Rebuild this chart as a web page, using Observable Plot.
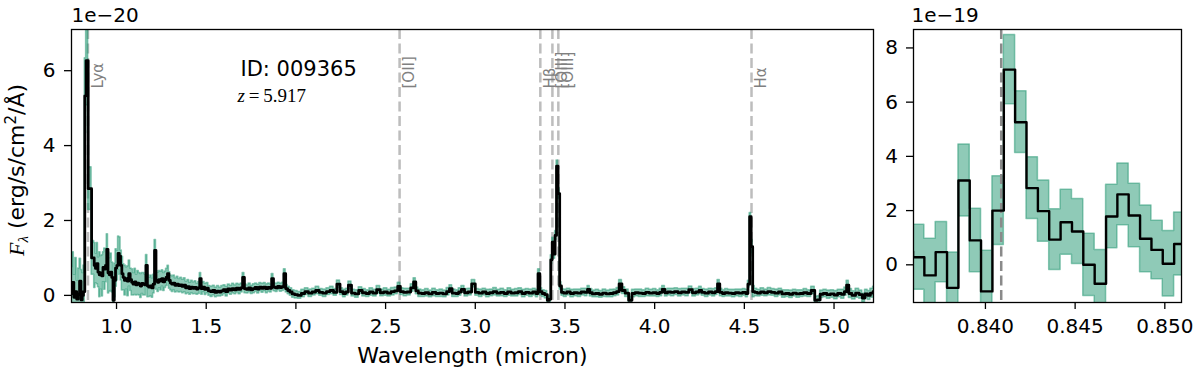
<!DOCTYPE html>
<html><head><meta charset="utf-8">
<script src="https://cdn.jsdelivr.net/npm/d3@7"></script>
<script src="https://cdn.jsdelivr.net/npm/@observablehq/plot@0.6"></script>
<style>
html,body{margin:0;padding:0;background:#fff;}
#wrap{position:relative;width:1200px;height:375px;overflow:hidden;background:#fff;}
#wrap svg{position:absolute;top:0;}
</style></head><body><div id="wrap"></div>
<script>
// ---- full spectrum (flux in units of 1e-20) ----
const specWave = [0.750,0.758,0.766,0.774,0.782,0.790,0.798,0.806,0.812,0.819,0.827,0.834,0.850,0.872,0.879,0.886,0.893,0.900,0.907,0.914,0.921,0.928,0.935,0.942,0.949,0.956,0.963,0.970,0.977,0.984,0.991,0.998,1.005,1.012,1.019,1.026,1.033,1.040,1.048,1.056,1.064,1.072,1.080,1.088,1.096,1.104,1.112,1.120,1.128,1.136,1.144,1.152,1.160,1.168,1.176,1.184,1.192,1.200,1.208,1.216,1.224,1.232,1.240,1.248,1.256,1.264,1.272,1.280,1.288,1.296,1.304,1.312,1.320,1.330,1.340,1.350,1.360,1.370,1.380,1.390,1.400,1.410,1.420,1.430,1.440,1.450,1.460,1.468,1.476,1.486,1.496,1.506,1.518,1.530,1.542,1.554,1.566,1.578,1.590,1.602,1.614,1.626,1.638,1.650,1.662,1.674,1.686,1.698,1.708,1.718,1.730,1.742,1.754,1.766,1.778,1.790,1.802,1.814,1.826,1.838,1.850,1.860,1.870,1.880,1.892,1.904,1.916,1.928,1.938,1.948,1.960,1.972,1.986,2.000,2.020,2.040,2.060,2.080,2.100,2.120,2.140,2.160,2.180,2.200,2.220,2.237,2.255,2.270,2.285,2.300,2.320,2.340,2.360,2.380,2.400,2.420,2.440,2.460,2.480,2.500,2.520,2.540,2.560,2.575,2.590,2.610,2.630,2.650,2.662,2.675,2.690,2.710,2.730,2.750,2.770,2.790,2.810,2.830,2.850,2.862,2.880,2.900,2.915,2.930,2.950,2.970,2.990,3.010,3.030,3.050,3.070,3.090,3.110,3.130,3.150,3.170,3.190,3.210,3.230,3.250,3.270,3.290,3.310,3.330,3.345,3.355,3.365,3.380,3.395,3.408,3.417,3.425,3.433,3.441,3.449,3.457,3.466,3.475,3.486,3.500,3.520,3.540,3.560,3.580,3.600,3.620,3.631,3.645,3.660,3.680,3.700,3.720,3.740,3.760,3.780,3.795,3.809,3.826,3.845,3.865,3.882,3.900,3.920,3.940,3.960,3.980,4.000,4.020,4.035,4.049,4.065,4.080,4.100,4.120,4.140,4.160,4.180,4.200,4.220,4.240,4.255,4.270,4.290,4.310,4.330,4.345,4.356,4.370,4.385,4.400,4.420,4.440,4.460,4.480,4.500,4.515,4.525,4.534,4.542,4.551,4.565,4.580,4.600,4.620,4.640,4.660,4.680,4.700,4.720,4.740,4.760,4.780,4.800,4.820,4.840,4.860,4.885,4.900,4.915,4.930,4.950,4.970,4.990,5.010,5.030,5.050,5.065,5.075,5.090,5.110,5.130,5.150,5.165,5.180,5.195,5.210,5.225];
const specFlux = [0.05,0.35,-0.05,0.10,-0.10,0.02,0.38,-0.12,0.00,0.10,5.33,6.27,2.85,1.00,0.80,0.72,0.85,0.62,0.55,0.60,0.52,0.75,0.70,0.80,1.23,0.60,0.55,0.62,0.48,-0.13,0.40,0.73,0.80,1.12,1.05,0.80,0.58,0.48,0.40,0.45,0.38,0.58,0.42,0.35,0.30,0.36,0.28,0.33,0.30,0.25,0.32,0.30,0.28,0.80,0.25,0.22,0.25,0.20,0.30,1.20,0.40,0.35,0.42,0.38,0.45,0.36,0.42,0.48,0.58,0.40,0.33,0.30,0.33,0.27,0.30,0.26,0.28,0.24,0.27,0.20,0.23,0.18,0.22,0.19,0.21,0.17,0.20,0.45,0.18,0.22,0.16,0.19,0.12,0.10,0.13,0.08,0.11,0.09,0.12,0.15,0.10,0.17,0.14,0.18,0.15,0.19,0.16,0.20,0.48,0.18,0.16,0.20,0.15,0.18,0.21,0.17,0.22,0.19,0.22,0.18,0.21,0.19,0.45,0.22,0.20,0.24,0.21,0.23,0.58,0.18,0.13,0.09,0.04,0.02,0.00,0.05,0.10,0.06,0.09,0.13,0.08,0.06,0.10,0.13,0.08,0.30,0.10,0.05,0.09,0.27,0.06,0.04,0.13,0.07,0.05,0.09,0.06,0.15,0.07,0.09,0.06,0.10,0.12,0.24,0.10,0.08,0.09,0.20,0.36,0.12,0.06,0.05,0.07,0.04,0.08,0.05,0.06,0.04,0.10,0.18,0.06,0.05,0.09,0.16,0.07,0.09,0.31,0.08,0.06,0.09,0.05,0.07,0.10,0.06,0.08,0.05,0.09,0.06,0.07,0.10,0.05,0.08,0.06,0.09,0.05,0.58,0.10,0.05,0.02,-0.13,-0.10,0.95,1.42,1.10,1.60,3.45,2.72,0.25,0.08,0.06,0.09,0.05,0.07,0.06,0.09,0.08,0.16,0.07,0.04,0.05,0.03,0.06,0.04,0.05,0.07,0.10,0.31,0.13,0.06,-0.13,0.05,0.07,0.06,0.05,0.08,0.06,0.07,0.05,0.08,0.16,0.07,0.09,0.08,0.10,0.07,0.09,0.08,0.15,0.07,0.09,0.13,0.08,0.06,0.09,0.07,0.10,0.31,0.08,0.05,0.07,0.06,0.05,0.07,0.06,0.08,0.05,0.30,2.10,1.30,0.10,0.08,0.06,0.09,0.07,0.10,0.08,0.06,0.09,0.04,0.05,0.03,0.06,0.04,0.05,0.07,0.05,0.13,-0.13,-0.12,0.03,0.05,0.02,0.04,0.01,0.05,0.03,0.10,0.27,0.05,0.00,0.06,0.02,-0.07,0.04,0.00,0.06,0.10];
const specErr = [0.70,0.80,0.60,0.90,0.50,0.70,0.60,0.80,0.60,0.70,1.00,1.20,0.57,0.45,0.60,0.40,0.55,0.40,0.60,0.45,0.55,0.40,0.55,0.45,0.40,0.55,0.45,0.50,0.40,0.50,0.45,0.50,0.40,0.45,0.50,0.40,0.45,0.35,0.40,0.30,0.40,0.35,0.30,0.35,0.30,0.35,0.28,0.32,0.30,0.32,0.28,0.30,0.28,0.28,0.30,0.26,0.28,0.26,0.25,0.28,0.25,0.26,0.23,0.25,0.22,0.24,0.22,0.23,0.21,0.22,0.20,0.21,0.20,0.19,0.20,0.18,0.19,0.18,0.19,0.17,0.18,0.16,0.17,0.16,0.17,0.15,0.16,0.15,0.16,0.14,0.15,0.14,0.13,0.14,0.13,0.13,0.14,0.12,0.13,0.12,0.13,0.12,0.12,0.13,0.12,0.12,0.13,0.12,0.12,0.12,0.11,0.12,0.11,0.12,0.11,0.12,0.11,0.12,0.11,0.12,0.11,0.11,0.12,0.11,0.11,0.10,0.11,0.11,0.12,0.10,0.10,0.10,0.10,0.10,0.09,0.10,0.09,0.10,0.09,0.10,0.09,0.10,0.09,0.10,0.09,0.10,0.09,0.10,0.09,0.10,0.09,0.10,0.09,0.10,0.09,0.10,0.09,0.10,0.09,0.10,0.09,0.10,0.09,0.10,0.09,0.10,0.09,0.10,0.10,0.09,0.10,0.09,0.10,0.09,0.10,0.09,0.10,0.09,0.10,0.09,0.10,0.09,0.10,0.09,0.10,0.09,0.10,0.09,0.10,0.09,0.10,0.09,0.10,0.09,0.10,0.09,0.10,0.09,0.10,0.09,0.10,0.09,0.10,0.09,0.10,0.12,0.10,0.09,0.10,0.09,0.10,0.12,0.12,0.12,0.12,0.15,0.15,0.10,0.09,0.10,0.09,0.10,0.09,0.10,0.09,0.10,0.09,0.10,0.09,0.10,0.09,0.10,0.09,0.10,0.09,0.10,0.10,0.09,0.10,0.09,0.10,0.09,0.10,0.09,0.10,0.09,0.10,0.09,0.10,0.09,0.10,0.09,0.10,0.09,0.10,0.09,0.10,0.09,0.10,0.09,0.10,0.09,0.10,0.09,0.10,0.09,0.10,0.10,0.09,0.10,0.09,0.10,0.09,0.10,0.09,0.10,0.09,0.10,0.18,0.15,0.10,0.09,0.10,0.09,0.10,0.09,0.10,0.09,0.10,0.09,0.10,0.09,0.10,0.09,0.10,0.09,0.10,0.10,0.10,0.10,0.10,0.11,0.10,0.11,0.10,0.12,0.11,0.12,0.12,0.11,0.12,0.11,0.12,0.11,0.12,0.12,0.13,0.20];

// ---- zoom on Ly-alpha (flux in units of 1e-19) ----
const zoomWave = [0.83565,0.83628,0.83691,0.83754,0.83818,0.83881,0.83944,0.84007,0.84071,0.84134,0.84197,0.84261,0.84324,0.84387,0.84451,0.84514,0.84577,0.84641,0.84704,0.84767,0.84830,0.84894,0.84957,0.85020,0.85084,0.85147];
const zoomFlux = [0.50,0.28,-0.39,0.47,-0.85,3.11,0.90,-0.98,2.00,7.20,5.26,2.83,1.98,0.93,1.57,1.23,0.00,-0.70,1.78,2.60,1.82,0.96,0.55,0.04,0.77,0.60];
const zoomErr = [1.20,1.20,1.35,1.11,1.30,1.33,1.17,1.50,1.27,1.28,1.14,1.14,1.13,1.12,1.20,1.20,1.15,1.25,1.17,1.14,1.17,1.23,1.08,1.21,1.16,1.20];

// ---- emission lines ----
const lineWave = [0.8409, 2.578, 3.3626, 3.430, 3.463, 4.540];
const labelWave = [0.8409, 2.578, 3.3626, 3.430, 3.463, 4.540];
const labelText = ["Lyα", "[OII]", "Hβ", "[OIII]", "[OIII]", "Hα"];
const lyaWave = [0.84088];

// ---- ticks ----
const leftXTicks = [1.0, 1.5, 2.0, 2.5, 3.0, 3.5, 4.0, 4.5, 5.0];
const leftYTicks = [0, 2, 4, 6];
const rightXTicks = [0.840, 0.845, 0.850];
const rightYTicks = [0, 2, 4, 6, 8];

const idText = "ID: 009365";
const zText = "z = 5.917";
const leftScaleText = "1e\u221220";
const rightScaleText = "1e\u221219";
const xLabel = "Wavelength (micron)";
const yLabel = "Fλ (erg/s/cm2/Å)";

const teal = "#1f956f";
const spec = specWave.map((w, i) => ({w, f: specFlux[i], lo: specFlux[i] - specErr[i], hi: specFlux[i] + specErr[i]}));
const zoom = zoomWave.map((w, i) => ({w, f: zoomFlux[i], lo: zoomFlux[i] - zoomErr[i], hi: zoomFlux[i] + zoomErr[i]}));
const labels = labelWave.map((w, i) => ({w, t: labelText[i]}));

const baseStyle = {fontFamily: "DejaVu Sans", fontSize: "20px", color: "black", background: "transparent", overflow: "visible"};

const left = Plot.plot({
  width: 880, height: 375,
  marginLeft: 71, marginRight: 7, marginTop: 29, marginBottom: 73,
  style: baseStyle,
  x: {domain: [0.749, 5.22]},
  y: {domain: [-0.19, 7.1]},
  marks: [
    Plot.ruleX(lineWave, {x: d => d, stroke: "#bdbdbd", strokeWidth: 2.5, strokeDasharray: "10,4.5", clip: true}),
    Plot.areaY(spec, {x: "w", y1: "lo", y2: "hi", curve: "step", fill: teal, fillOpacity: 0.5, stroke: teal, strokeOpacity: 0.5, strokeWidth: 1.5, clip: true}),
    Plot.line(spec, {x: "w", y: "f", curve: "step", stroke: "black", strokeWidth: 2.8, clip: true}),
    Plot.text(labels, {x: "w", text: "t", frameAnchor: "top", dy: 59, dx: 10, rotate: -90, textAnchor: "start", lineAnchor: "middle", fill: "#808080", fontSize: 15}),
    Plot.text([idText], {frameAnchor: "top-left", dx: 169, dy: 46, textAnchor: "start", lineAnchor: "bottom", fontSize: 21}),
    Plot.text([zText], {frameAnchor: "top-left", dx: 166, dy: 72.7, textAnchor: "start", lineAnchor: "bottom", fontSize: 19, fontFamily: "Liberation Serif"}),
    Plot.text([leftScaleText], {frameAnchor: "top-left", dx: 0, dy: -7.5, textAnchor: "start", lineAnchor: "bottom", fontSize: 20}),
    Plot.text([xLabel], {frameAnchor: "bottom", dy: 60, textAnchor: "middle", lineAnchor: "bottom", fontSize: 22}),
    Plot.text([yLabel], {frameAnchor: "left", dx: -63, dy: 4, rotate: -90, textAnchor: "middle", lineAnchor: "top", fontSize: 22}),
    Plot.axisX({ticks: leftXTicks, tickFormat: d3.format(".1f"), tickSize: 7, tickPadding: 9.4, strokeWidth: 1.3, label: null, fontSize: 20}),
    Plot.axisY({ticks: leftYTicks, tickFormat: d3.format("d"), tickSize: 7, tickPadding: 9, strokeWidth: 1.3, label: null, fontSize: 20}),
    Plot.frame({stroke: "black", strokeWidth: 1.3})
  ]
});
left.style.left = "0px";

const right = Plot.plot({
  width: 330, height: 375,
  marginLeft: 43, marginRight: 19, marginTop: 29, marginBottom: 73,
  style: baseStyle,
  x: {domain: [0.83599, 0.85093]},
  y: {domain: [-1.39, 8.68]},
  marks: [
    Plot.areaY(zoom, {x: "w", y1: "lo", y2: "hi", curve: "step", fill: teal, fillOpacity: 0.5, stroke: teal, strokeOpacity: 0.5, strokeWidth: 1.5, clip: true}),
    Plot.ruleX(lyaWave, {x: d => d, stroke: "#8a8a8a", strokeWidth: 2.5, strokeDasharray: "10,4.5", clip: true}),
    Plot.line(zoom, {x: "w", y: "f", curve: "step", stroke: "black", strokeWidth: 2.4, clip: true}),
    Plot.text([rightScaleText], {frameAnchor: "top-left", dx: -2, dy: -7.5, textAnchor: "start", lineAnchor: "bottom", fontSize: 20}),
    Plot.axisX({ticks: rightXTicks, tickFormat: d3.format(".3f"), tickSize: 7, tickPadding: 9.4, strokeWidth: 1.3, label: null, fontSize: 20}),
    Plot.axisY({ticks: rightYTicks, tickFormat: d3.format("d"), tickSize: 7, tickPadding: 8.5, strokeWidth: 1.3, label: null, fontSize: 20}),
    Plot.frame({stroke: "black", strokeWidth: 1.3})
  ]
});
right.style.left = "870px";

const wrap = document.getElementById("wrap");
wrap.appendChild(left);
wrap.appendChild(right);

// rich text for the math-style labels (found by their text content)
function richText(svg, content, html) {
  d3.select(svg).selectAll("text").filter(function () { return this.textContent === content; }).html(html);
}
richText(left, yLabel,
  '<tspan font-family="Liberation Serif" font-style="italic">F</tspan>' +
  '<tspan font-family="Liberation Serif" font-style="italic" font-size="15px" dy="4">λ</tspan>' +
  '<tspan dy="-4"> (erg/s/cm</tspan><tspan font-size="15px" dy="-8">2</tspan><tspan dy="8">/Å)</tspan>'
);
richText(left, zText,
  '<tspan font-style="italic">z</tspan><tspan>\u2009=\u20095.917</tspan>'
);
</script></body></html>
